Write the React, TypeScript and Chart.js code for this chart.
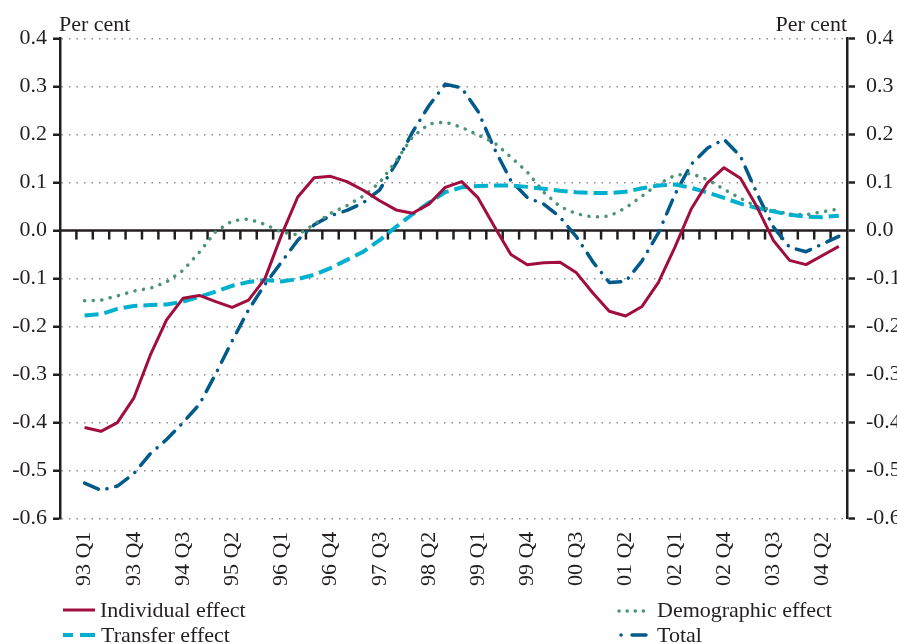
import React, { useEffect, useRef } from 'react';
import { Chart, registerables } from 'chart.js';

Chart.register(...registerables);

// Quarters 93 Q1 .. 04 Q3 (one empty slot precedes them on the axis)
const quarters = [
  '93 Q1', '93 Q2', '93 Q3', '93 Q4',
  '94 Q1', '94 Q2', '94 Q3', '94 Q4',
  '95 Q1', '95 Q2', '95 Q3', '95 Q4',
  '96 Q1', '96 Q2', '96 Q3', '96 Q4',
  '97 Q1', '97 Q2', '97 Q3', '97 Q4',
  '98 Q1', '98 Q2', '98 Q3', '98 Q4',
  '99 Q1', '99 Q2', '99 Q3', '99 Q4',
  '00 Q1', '00 Q2', '00 Q3', '00 Q4',
  '01 Q1', '01 Q2', '01 Q3', '01 Q4',
  '02 Q1', '02 Q2', '02 Q3', '02 Q4',
  '03 Q1', '03 Q2', '03 Q3', '03 Q4',
  '04 Q1', '04 Q2', '04 Q3',
];

const individualEffect = [
  -0.41, -0.418, -0.4, -0.349, -0.26, -0.186, -0.141, -0.135, -0.148, -0.16,
  -0.145, -0.1, -0.01, 0.07, 0.11, 0.113, 0.102, 0.084, 0.062, 0.043,
  0.036, 0.055, 0.09, 0.102, 0.068, 0.008, -0.05, -0.071, -0.067, -0.066,
  -0.088, -0.13, -0.168, -0.178, -0.158, -0.108, -0.035, 0.045, 0.1, 0.131,
  0.109, 0.05, -0.02, -0.062, -0.071, -0.052, -0.033,
];

const transferEffect = [
  -0.177, -0.174, -0.163, -0.157, -0.155, -0.154, -0.148, -0.138, -0.127, -0.115,
  -0.107, -0.103, -0.106, -0.101, -0.092, -0.078, -0.061, -0.044, -0.02, 0.008,
  0.034, 0.058, 0.08, 0.09, 0.093, 0.094, 0.094, 0.091, 0.087, 0.083,
  0.08, 0.078, 0.078, 0.081, 0.088, 0.094, 0.096, 0.089, 0.079, 0.068,
  0.056, 0.047, 0.04, 0.033, 0.029, 0.028, 0.031,
];

const demographicEffect = [
  -0.146, -0.145, -0.136, -0.126, -0.12, -0.107, -0.083, -0.045, -0.002, 0.02,
  0.024, 0.013, -0.003, -0.009, 0.013, 0.036, 0.052, 0.072, 0.1, 0.145,
  0.195, 0.222, 0.226, 0.215, 0.199, 0.183, 0.153, 0.122, 0.08, 0.05,
  0.035, 0.028, 0.03, 0.047, 0.072, 0.097, 0.115, 0.119, 0.106, 0.086,
  0.067, 0.05, 0.042, 0.034, 0.033, 0.039, 0.045,
];

const total = [
  -0.526, -0.541, -0.532, -0.506, -0.465, -0.435, -0.4, -0.362, -0.298, -0.23,
  -0.165, -0.112, -0.066, -0.02, 0.012, 0.031, 0.042, 0.058, 0.085, 0.14,
  0.205, 0.26, 0.305, 0.297, 0.248, 0.17, 0.104, 0.069, 0.055, 0.028,
  -0.013, -0.065, -0.108, -0.106, -0.063, -0.005, 0.075, 0.138, 0.172, 0.19,
  0.155, 0.078, 0.008, -0.035, -0.044, -0.028, -0.012,
];

const yMin = -0.6;
const yMax = 0.4;
const yStep = 0.1;
const yTitle = 'Per cent';

const FONT = "'Liberation Serif', 'Times New Roman', serif";
const FSIZE = 22;
const INK = '#231f20';
const RED = '#a00d3e';
const CYAN = '#00b0cf';
const GREEN = '#4b9475';
const NAVY = '#005b8b';

const axisLabels = ['', ...quarters];
const pad = (arr: number[]) => [null, ...arr];

const fmt = (v: number) => {
  const n = Math.round(v * 10) / 10;
  return (n === 0 ? 0 : n).toFixed(1);
};

const overlay = {
  id: 'overlay',
  beforeDatasetsDraw(chart: any) {
    const { ctx, chartArea, scales } = chart;
    const y0 = scales.y.getPixelForValue(0);
    const xs = scales.x;
    const n = chart.data.labels.length;
    const half = (xs.getPixelForValue(1) - xs.getPixelForValue(0)) / 2;
    ctx.save();
    ctx.strokeStyle = INK;
    ctx.lineWidth = 2.5;
    ctx.beginPath();
    ctx.moveTo(chartArea.left, y0);
    ctx.lineTo(chartArea.right, y0);
    ctx.stroke();
    for (let i = 1; i < n; i++) {
      const px = xs.getPixelForValue(i) - half;
      ctx.beginPath();
      ctx.moveTo(px, y0);
      ctx.lineTo(px, y0 + 9);
      ctx.stroke();
    }
    ctx.restore();
  },
  afterDraw(chart: any) {
    const { ctx, chartArea } = chart;
    ctx.save();
    ctx.fillStyle = INK;
    ctx.font = `${FSIZE}px ${FONT}`;
    ctx.textBaseline = 'alphabetic';
    ctx.textAlign = 'left';
    ctx.fillText(yTitle, chartArea.left - 1, 31);
    ctx.textAlign = 'right';
    ctx.fillText(yTitle, chartArea.right, 31);

    const ds = chart.data.datasets;
    const drawText = (t: string, x: number, y: number) => {
      ctx.textAlign = 'left';
      ctx.fillStyle = INK;
      ctx.fillText(t, x, y);
    };
    const seg = (x1: number, x2: number, y: number) => {
      ctx.beginPath();
      ctx.moveTo(x1, y);
      ctx.lineTo(x2, y);
      ctx.stroke();
    };
    // Individual effect
    ctx.strokeStyle = ds[0].borderColor;
    ctx.lineWidth = 3;
    ctx.lineCap = 'butt';
    ctx.setLineDash([]);
    seg(63, 95, 610);
    drawText(ds[0].label, 100, 617);
    // Transfer effect
    ctx.strokeStyle = ds[1].borderColor;
    ctx.lineWidth = 4;
    seg(63, 73, 635);
    seg(80, 95, 635);
    drawText(ds[1].label, 101, 642);
    // Demographic effect
    ctx.strokeStyle = ds[2].borderColor;
    ctx.lineWidth = 3.5;
    ctx.lineCap = 'round';
    ctx.setLineDash([0.1, 8]);
    seg(619, 651, 611);
    ctx.setLineDash([]);
    drawText(ds[2].label, 657, 617);
    // Total
    ctx.strokeStyle = ds[3].borderColor;
    ctx.lineWidth = 3.5;
    ctx.lineCap = 'round';
    seg(621, 621.1, 635);
    seg(632, 646, 635);
    drawText(ds[3].label, 657, 642);
    ctx.restore();
  },
};

export default function App() {
  const ref = useRef<HTMLCanvasElement>(null);
  useEffect(() => {
    if (!ref.current) return;
    const tickFont = { family: FONT, size: FSIZE };
    const chart = new Chart(ref.current, {
      type: 'line',
      data: {
        labels: axisLabels,
        datasets: [
          {
            label: 'Individual effect',
            data: pad(individualEffect),
            borderColor: RED,
            borderWidth: 3,
            borderJoinStyle: 'round',
            pointRadius: 0,
            tension: 0,
          },
          {
            label: 'Transfer effect',
            data: pad(transferEffect),
            borderColor: CYAN,
            borderWidth: 4,
            borderDash: [14, 6],
            borderJoinStyle: 'round',
            pointRadius: 0,
            tension: 0,
          },
          {
            label: 'Demographic effect',
            data: pad(demographicEffect),
            borderColor: GREEN,
            borderWidth: 3.5,
            borderDash: [0.1, 8.5],
            borderCapStyle: 'round',
            borderJoinStyle: 'round',
            pointRadius: 0,
            tension: 0,
          },
          {
            label: 'Total',
            data: pad(total),
            borderColor: NAVY,
            borderWidth: 3.5,
            borderDash: [15, 9, 0.1, 9],
            borderCapStyle: 'round',
            borderJoinStyle: 'round',
            pointRadius: 0,
            tension: 0,
          },
        ],
      } as any,
      options: {
        responsive: false,
        animation: false,
        devicePixelRatio: 1,
        layout: { padding: { top: 38.5, left: 0, right: 0, bottom: 0 } },
        plugins: {
          legend: { display: false },
          tooltip: { enabled: false },
          title: { display: false },
        },
        scales: {
          x: {
            type: 'category',
            offset: true,
            grid: { display: false, drawTicks: false },
            border: { display: false },
            ticks: {
              autoSkip: false,
              minRotation: 90,
              maxRotation: 90,
              padding: 13,
              color: INK,
              font: tickFont,
              callback: (_v: any, i: number) =>
                i > 0 && (i - 1) % 3 === 0 ? axisLabels[i] : '',
            },
            afterFit: (s: any) => {
              s.height = 125.3;
            },
          },
          y: {
            position: 'left',
            min: yMin,
            max: yMax,
            afterFit: (s: any) => {
              s.width = 60;
            },
            ticks: {
              stepSize: yStep,
              color: INK,
              font: tickFont,
              padding: 6,
              callback: (v: any) => fmt(Number(v)),
            },
            grid: {
              color: (c: any) =>
                c.tick && Math.abs(c.tick.value) < 1e-9 ? 'rgba(0,0,0,0)' : '#8d8d8d',
              lineWidth: 1.5,
              drawTicks: true,
              tickLength: 7,
              tickColor: INK,
              tickWidth: 2.5,
            },
            border: { display: true, color: INK, width: 2.5, dash: [1.5, 6] },
          },
          y2: {
            position: 'right',
            min: yMin,
            max: yMax,
            afterFit: (s: any) => {
              s.width = 50;
            },
            ticks: {
              stepSize: yStep,
              color: INK,
              font: tickFont,
              padding: 11,
              callback: (v: any) => fmt(Number(v)),
            },
            grid: {
              drawOnChartArea: false,
              drawTicks: true,
              tickLength: 8,
              tickColor: INK,
              tickWidth: 2.5,
            },
            border: { display: true, color: INK, width: 2.5 },
          },
        },
      } as any,
      plugins: [overlay],
    });
    return () => chart.destroy();
  }, []);

  return (
    <div
      style={{
        position: 'absolute',
        left: 0,
        top: 0,
        width: 897,
        height: 644,
        background: '#ffffff',
      }}
    >
      <canvas ref={ref} width={897} height={644} style={{ display: 'block' }} />
    </div>
  );
}
